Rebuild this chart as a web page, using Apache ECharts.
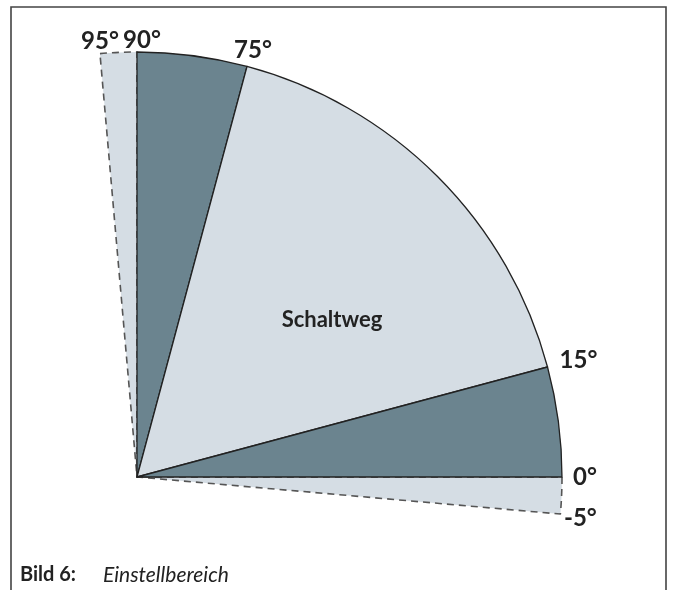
<!DOCTYPE html>
<html>
<head>
<meta charset="utf-8">
<script src="https://cdn.jsdelivr.net/npm/echarts@6/dist/echarts.min.js"></script>
<style>
  html, body { margin: 0; padding: 0; background: #fff; }
  #chart { width: 674px; height: 590px; }
</style>
</head>
<body>
<div id="chart"></div>
<script>
// Segment spans in degrees, from 95° clockwise down to -5°
const segments = ['95-90', '90-75', 'Schaltweg', '15-0', '0-(-5)']
const spans = [5, 15, 60, 15, 5]
// boundary angles that get a label
const boundaryAngles = [95, 90, 75, 15, 0, -5]
const boundaryLabels = ['95°', '90°', '75°', '15°', '0°', '-5°']
const centerLabel = 'Schaltweg'
const captionNo = 'Bild 6:'
const captionText = 'Einstellbereich'

const dark = '#6b848f'
const light = '#d5dde4'
const cx = 137, cy = 477, R = 425
// label nudges relative to the end of each boundary line
const labelOffsets = [[0, -12], [5, -12], [6, -16], [31, -7], [23, 0], [20, 4]]

const chart = echarts.init(document.getElementById('chart'))

const solid = { borderColor: '#222', borderWidth: 1.3, borderType: 'solid' }
const dashed = { borderColor: '#555', borderWidth: 1.6, borderType: [7, 5] }
const isDashed = [true, false, false, false, true]
const fills = [light, dark, light, dark, light]

const pieBase = {
  type: 'pie',
  center: [cx, cy],
  radius: [0, R],
  startAngle: 95,
  endAngle: -5,
  clockwise: true,
  silent: true,
  label: { show: false },
  labelLine: { show: false },
  emphasis: { disabled: true }
}

const angleTexts = boundaryAngles.map((a, i) => {
  const rad = a * Math.PI / 180
  return {
    type: 'text',
    z: 100,
    x: cx + R * Math.cos(rad) + labelOffsets[i][0],
    y: cy - R * Math.sin(rad) + labelOffsets[i][1],
    style: {
      text: boundaryLabels[i],
      font: 'bold 24px Lato',
      fill: '#222',
      align: 'center',
      verticalAlign: 'middle'
    }
  }
})

chart.setOption({
  animation: false,
  series: [
    // back layer: the dashed outer ranges
    {
      ...pieBase,
      z: 2,
      data: spans.map((v, i) => ({
        name: segments[i],
        value: v,
        itemStyle: isDashed[i] ? { color: fills[i], ...dashed } : { color: fills[i], borderWidth: 0 }
      }))
    },
    // front layer: the solid outlined sectors on top
    {
      ...pieBase,
      z: 3,
      data: spans.map((v, i) => ({
        name: segments[i],
        value: v,
        itemStyle: isDashed[i] ? { color: 'transparent', borderWidth: 0 } : { color: fills[i], ...solid }
      }))
    }
  ],
  graphic: [
    {
      type: 'polyline',
      z: 100,
      shape: { points: [[11, 592], [11, 7], [666, 7], [666, 592]] },
      style: { stroke: '#444', lineWidth: 1.6, fill: null }
    },
    ...angleTexts,
    {
      type: 'text',
      z: 100,
      x: 332,
      y: 320,
      style: { text: centerLabel, font: 'bold 22px Lato', fill: '#222', align: 'center', verticalAlign: 'middle' }
    },
    {
      type: 'text',
      z: 100,
      x: 20,
      y: 575,
      style: { text: captionNo, font: 'bold 20px Lato', fill: '#222', align: 'left', verticalAlign: 'middle' }
    },
    {
      type: 'text',
      z: 100,
      x: 103,
      y: 575,
      style: { text: captionText, font: 'italic 21px Lato', fill: '#222', align: 'left', verticalAlign: 'middle' }
    }
  ]
})
</script>
</body>
</html>
